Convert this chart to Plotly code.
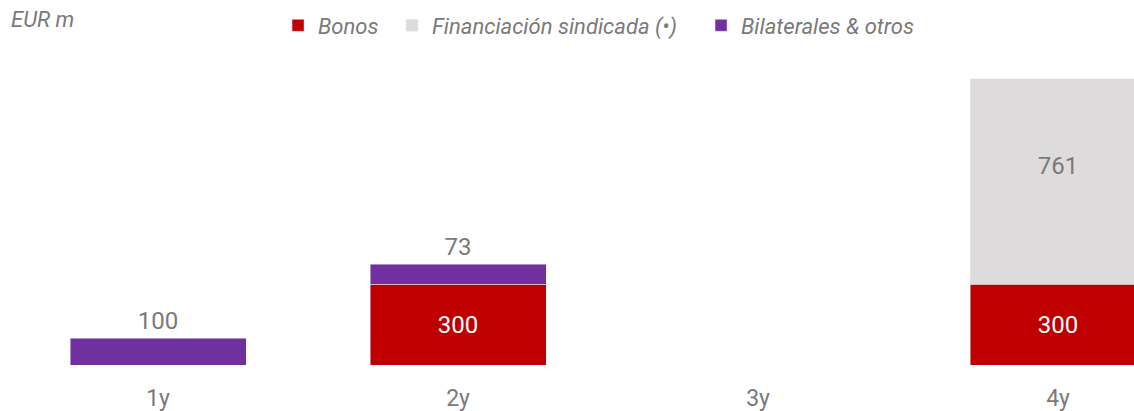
import plotly.graph_objects as go

categories = ["1y", "2y", "3y", "4y"]
bonos = [None, 300, None, 300]
sindicada = [None, None, None, 761]
bilaterales = [100, 73, None, None]

def labels(vals, suffix=""):
    return [("" if v is None else str(v) + suffix) for v in vals]

LABEL_FONT = 24
GRAY_TXT = "#7a7a7a"

fig = go.Figure()
fig.add_trace(go.Bar(
    x=categories, y=bonos, name="Bonos", marker_color="#C00000",
    text=labels(bonos), textposition="inside", insidetextanchor="middle",
    textfont=dict(color="white", size=LABEL_FONT, family="Roboto"),
    legendwidth=69,
))
fig.add_trace(go.Bar(
    x=categories, y=sindicada, name="Financiación sindicada (•)", marker_color="#DEDBDD",
    text=labels(sindicada, "<br> "), textposition="inside", insidetextanchor="middle",
    textfont=dict(color=GRAY_TXT, size=LABEL_FONT, family="Roboto"),
    legendwidth=264,
))
fig.add_trace(go.Bar(
    x=categories, y=bilaterales, name="Bilaterales & otros", marker_color="#7030A0",
    text=labels(bilaterales), textposition="outside",
    textfont=dict(color=GRAY_TXT, size=LABEL_FONT, family="Roboto"),
    cliponaxis=False,
))

fig.update_layout(
    barmode="stack",
    bargap=0.413,
    width=1134, height=411,
    margin=dict(l=0, r=0, t=50, b=46),
    paper_bgcolor="white", plot_bgcolor="white",
    showlegend=True,
    legend=dict(orientation="h", x=0.2452, y=1.011, yanchor="bottom", xanchor="left",
                font=dict(family="Roboto", size=22, color=GRAY_TXT, style="italic"),
                itemwidth=30, traceorder="normal"),
    uniformtext=dict(mode=False),
)
fig.update_xaxes(range=[-0.527, 3.253], showgrid=False, showline=False, zeroline=False,
                 tickfont=dict(family="Roboto", size=23, color=GRAY_TXT), ticks="",
                 ticklabelstandoff=17, fixedrange=True)
fig.update_yaxes(range=[0, 1167], visible=False, fixedrange=True)
fig.add_annotation(text="EUR m", xref="paper", yref="paper", x=0.0, y=1.0,
                   xanchor="left", yanchor="bottom", showarrow=False, xshift=9, yshift=16,
                   font=dict(family="Roboto", size=22, color=GRAY_TXT, style="italic"))
fig.write_html("out.html", config={"displayModeBar": False},
               post_script="document.body.style.margin='0';")
